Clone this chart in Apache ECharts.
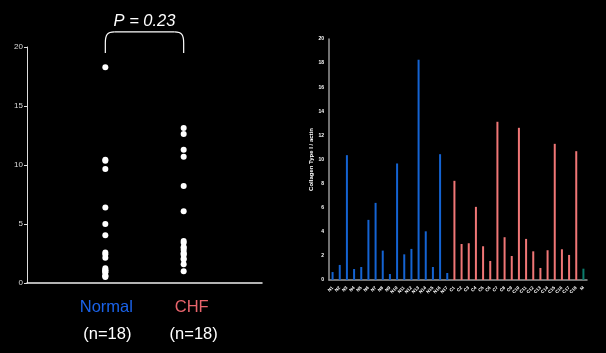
<!DOCTYPE html>
<html>
<head>
<meta charset="utf-8">
<script src="https://cdn.jsdelivr.net/npm/echarts@6/dist/echarts.min.js"></script>
<style>
  html, body { margin: 0; padding: 0; background: #000; }
  #chart { width: 606px; height: 353px; }
</style>
</head>
<body>
<div id="chart"></div>
<script>
// collagen type I / actin per sample
const normalBars = [0.66, 1.25, 10.36, 0.91, 1.08, 4.99, 6.4, 2.44, 0.5, 9.67, 2.13, 2.58, 18.28, 4.04, 1.08, 10.44, 0.58];
const chfBars = [8.23, 2.99, 3.05, 6.07, 2.8, 1.58, 13.13, 3.55, 1.99, 12.63, 3.41, 2.38, 1.0, 2.47, 11.3, 2.55, 2.08, 10.69];
const extraBar = [0.94];
const groupNames = ['Normal', 'CHF'];
const groupCounts = ['(n=18)', '(n=18)'];
const pText = 'P = 0.23';

const blue = '#1463d2';
const pink = '#f07676';
const teal = '#0b7c6c';

// sample labels (too small to read in the source, placeholders)
const sampleLabels = [];
normalBars.forEach((v, i) => sampleLabels.push('N' + (i + 1)));
chfBars.forEach((v, i) => sampleLabels.push('C' + (i + 1)));
extraBar.forEach(() => sampleLabels.push('M'));

const normalScatter = normalBars.concat(extraBar);
const chfScatter = chfBars;

const barData = []
  .concat(normalBars.map(v => ({ value: v, itemStyle: { color: blue } })))
  .concat(chfBars.map(v => ({ value: v, itemStyle: { color: pink } })))
  .concat(extraBar.map(v => ({ value: v, itemStyle: { color: teal } })));

const chart = echarts.init(document.getElementById('chart'));

const option = {
  backgroundColor: '#000',
  animation: false,
  grid: [
    { left: 27, right: 344, top: 47, bottom: 70 },
    { left: 329, right: 19, top: 39, bottom: 73 }
  ],
  xAxis: [
    {
      gridIndex: 0, type: 'value', min: 0, max: 3, interval: 1,
      axisLine: { lineStyle: { color: '#eee', width: 1.5 } },
      axisTick: { show: false },
      axisLabel: { show: false },
      splitLine: { show: false }
    },
    {
      gridIndex: 1, type: 'category', data: sampleLabels,
      axisLine: { lineStyle: { color: '#999', width: 1.5 } },
      axisTick: { show: false },
      axisLabel: {
        interval: 0, rotate: 45, color: '#fff', fontSize: 4.5, fontWeight: 'bold',
        margin: 7, fontFamily: 'Liberation Sans'
      }
    }
  ],
  yAxis: [
    {
      gridIndex: 0, type: 'value', min: 0, max: 20, interval: 5,
      axisLine: { show: true, lineStyle: { color: '#ddd', width: 1 } },
      axisTick: { show: true, length: 3, lineStyle: { color: '#ddd' } },
      axisLabel: { color: '#ddd', fontSize: 8, margin: 4, fontFamily: 'Liberation Sans' },
      splitLine: { show: false }
    },
    {
      gridIndex: 1, type: 'value', min: 0, max: 20, interval: 2,
      name: 'Collagen Type I / actin', nameLocation: 'middle', nameGap: 13,
      nameTextStyle: { color: '#fff', fontSize: 6, fontWeight: 'bold', fontFamily: 'Liberation Sans' },
      axisLine: { show: true, lineStyle: { color: '#999', width: 1.5 } },
      axisTick: { show: false },
      axisLabel: { color: '#fff', fontSize: 5, fontWeight: 'bold', margin: 5, fontFamily: 'Liberation Sans' },
      splitLine: { show: false }
    }
  ],
  series: [
    {
      type: 'scatter', xAxisIndex: 0, yAxisIndex: 0, symbolSize: 6,
      itemStyle: { color: '#fff', opacity: 1 },
      data: normalScatter.map(v => [1, v])
    },
    {
      type: 'scatter', xAxisIndex: 0, yAxisIndex: 0, symbolSize: 6,
      itemStyle: { color: '#fff', opacity: 1 },
      data: chfScatter.map(v => [2, v])
    },
    {
      type: 'bar', xAxisIndex: 1, yAxisIndex: 1, barWidth: 2,
      data: barData
    }
  ]
};

chart.setOption(option);

// bracket and labels placed from the axes
const xN = chart.convertToPixel({ xAxisIndex: 0 }, 1);
const xC = chart.convertToPixel({ xAxisIndex: 0 }, 2);
const yBase = chart.convertToPixel({ yAxisIndex: 0 }, 0);
const yEnd = chart.convertToPixel({ yAxisIndex: 0 }, 19.5);
const yTop = yEnd - 21;
const br = { stroke: '#fff', lineWidth: 1.2, fill: null };

chart.setOption({
  graphic: [
    { type: 'line', shape: { x1: xN, y1: yEnd, x2: xN, y2: yTop + 11 }, style: br },
    { type: 'bezierCurve', shape: { x1: xN, y1: yTop + 11, cpx1: xN, cpy1: yTop + 3, cpx2: xN + 2, cpy2: yTop, x2: xN + 9, y2: yTop }, style: br },
    { type: 'line', shape: { x1: xN + 9, y1: yTop, x2: xC - 9, y2: yTop }, style: br },
    { type: 'bezierCurve', shape: { x1: xC - 9, y1: yTop, cpx1: xC - 2, cpy1: yTop, cpx2: xC, cpy2: yTop + 3, x2: xC, y2: yTop + 11 }, style: br },
    { type: 'line', shape: { x1: xC, y1: yTop + 11, x2: xC, y2: yEnd }, style: br },
    {
      type: 'text', x: (xN + xC) / 2, y: yTop - 2,
      style: { text: pText, fill: '#fff', fontSize: 16.5, fontStyle: 'italic', fontFamily: 'Liberation Sans', align: 'center', verticalAlign: 'bottom' }
    },
    {
      type: 'text', x: xN + 1, y: yBase + 24,
      style: { text: groupNames[0], fill: '#1a62e8', fontSize: 16.5, fontFamily: 'Liberation Sans', align: 'center', verticalAlign: 'middle' }
    },
    {
      type: 'text', x: xC + 8, y: yBase + 24,
      style: { text: groupNames[1], fill: '#e8646c', fontSize: 16.5, fontFamily: 'Liberation Sans', align: 'center', verticalAlign: 'middle' }
    },
    {
      type: 'text', x: xN + 2, y: yBase + 51,
      style: { text: groupCounts[0], fill: '#fff', fontSize: 16.5, fontFamily: 'Liberation Sans', align: 'center', verticalAlign: 'middle' }
    },
    {
      type: 'text', x: xC + 10, y: yBase + 51,
      style: { text: groupCounts[1], fill: '#fff', fontSize: 16.5, fontFamily: 'Liberation Sans', align: 'center', verticalAlign: 'middle' }
    }
  ]
});
</script>
</body>
</html>
